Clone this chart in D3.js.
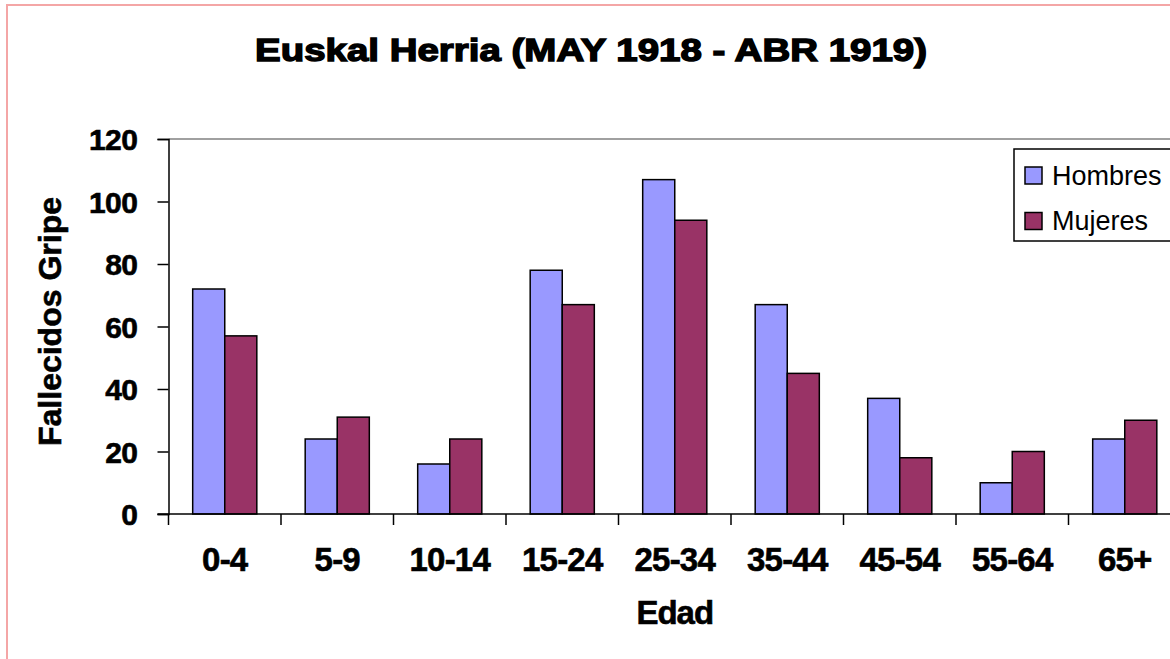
<!DOCTYPE html>
<html><head><meta charset="utf-8">
<script src="https://cdn.jsdelivr.net/npm/d3@7"></script>
<style>
html,body{margin:0;padding:0;background:#fff;overflow:hidden}
text{font-family:"Liberation Sans",Arial,sans-serif}
</style></head>
<body><svg id="c" width="1170" height="659"></svg>
<script>
const categories = ["0-4","5-9","10-14","15-24","25-34","35-44","45-54","55-64","65+"];
const seriesNames = ["Hombres","Mujeres"];
const hombres = [72,24,16,78,107,67,37,10,24];
const mujeres = [57,31,24,67,94,45,18,20,30];
const yTicks = [0,20,40,60,80,100,120];
const colors = ["#9999FF","#993366"];

const svg = d3.select("#c");
const L=168.5, R=1181, T=139, B=514;

svg.append("rect").attr("x",7).attr("y",5).attr("width",1200).attr("height",700)
  .attr("fill","#fff").attr("stroke","#F4A6A6").attr("stroke-width",2);

const x = d3.scaleBand().domain(categories).range([L,R]).padding(0);
const gap = x.bandwidth()*0.215;
const x1 = d3.scaleBand().domain(seriesNames).range([gap, x.bandwidth()-gap]);
const y = d3.scaleLinear().domain([0,120]).range([B,T]);

// plot area top border
svg.append("line").attr("x1",L).attr("x2",1170).attr("y1",T).attr("y2",T)
  .attr("stroke","#808080").attr("stroke-width",1.5);

const data = categories.map((c,i)=>({c, vals:[hombres[i],mujeres[i]]}));
const g = svg.append("g");
data.forEach(d=>{
  d.vals.forEach((v,j)=>{
    g.append("rect")
      .attr("x", x(d.c)+x1(seriesNames[j]))
      .attr("y", y(v))
      .attr("width", x1.bandwidth())
      .attr("height", y(0)-y(v))
      .attr("fill", colors[j]).attr("stroke","#000").attr("stroke-width",1.5);
  });
});

function heavy(sel, w){ return sel.attr("stroke","#000").attr("stroke-width",w).attr("paint-order","stroke"); }

// y axis
const ya = svg.append("g").attr("transform",`translate(${L},0)`)
  .call(d3.axisLeft(y).tickValues(yTicks).tickSize(11).tickPadding(8));
ya.select(".domain").attr("stroke","#000").attr("stroke-width",1.5);
ya.selectAll(".tick line").attr("stroke","#000").attr("stroke-width",1.5);
heavy(ya.selectAll(".tick text").attr("font-size",30).attr("font-weight","bold").attr("fill","#000")
  .attr("dy","0.36em").attr("x",-31).attr("letter-spacing","-0.5"),0.6);

// x axis
const xa = svg.append("g").attr("transform",`translate(0,${B})`)
  .call(d3.axisBottom(x).tickSize(0).tickPadding(34));
xa.select(".domain").remove();
heavy(xa.selectAll(".tick text").attr("font-size",33).attr("font-weight","bold").attr("fill","#000")
  .attr("letter-spacing","-0.8"),0.6);
svg.append("line").attr("x1",L-11).attr("x2",1170).attr("y1",B).attr("y2",B)
  .attr("stroke","#000").attr("stroke-width",1.5);
categories.forEach(c=>{
  svg.append("line").attr("x1",x(c)).attr("x2",x(c)).attr("y1",B).attr("y2",B+11)
    .attr("stroke","#000").attr("stroke-width",1.5);
});

// title
heavy(svg.append("text").attr("x",591).attr("y",61).attr("text-anchor","middle")
  .attr("font-size",32).attr("font-weight","bold")
  .attr("textLength",672).attr("lengthAdjust","spacingAndGlyphs")
  .text("Euskal Herria (MAY 1918 - ABR 1919)"),1.4);
// axis titles
heavy(svg.append("text").attr("x",(L+R)/2).attr("y",624).attr("text-anchor","middle")
  .attr("font-size",33).attr("font-weight","bold").attr("letter-spacing","-1").text("Edad"),0.6);
heavy(svg.append("text").attr("transform",`translate(61,${(T+B)/2 - 5}) rotate(-90)`).attr("text-anchor","middle")
  .attr("font-size",32).attr("font-weight","bold").text("Fallecidos Gripe"),0.6);

// legend
const lg = svg.append("g");
lg.append("rect").attr("x",1014).attr("y",149).attr("width",200).attr("height",92)
  .attr("fill","#fff").attr("stroke","#000").attr("stroke-width",1.5);
seriesNames.forEach((s,j)=>{
  const cy = 175 + j*45.5;
  lg.append("rect").attr("x",1025).attr("y",cy-8).attr("width",17).attr("height",17)
    .attr("fill",colors[j]).attr("stroke","#000").attr("stroke-width",1.5);
  lg.append("text").attr("x",1052).attr("y",cy).attr("dy","0.36em")
    .attr("font-size",27).attr("fill","#000").text(s);
});
</script></body></html>
